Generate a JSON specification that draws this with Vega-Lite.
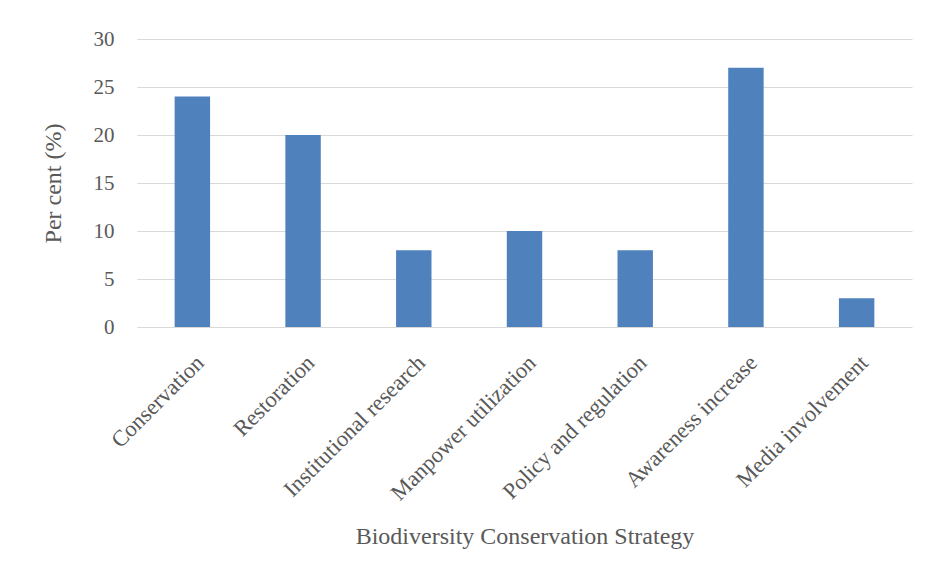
{
  "$schema": "https://vega.github.io/schema/vega-lite/v6.json",
  "autosize": "none",
  "width": 775,
  "height": 288,
  "padding": {"left": 137, "top": 39, "right": 13, "bottom": 243},
  "background": "white",
  "data": {
    "values": [
      {"strategy": "Conservation", "percent": 24},
      {"strategy": "Restoration", "percent": 20},
      {"strategy": "Institutional research", "percent": 8},
      {"strategy": "Manpower utilization", "percent": 10},
      {"strategy": "Policy and regulation", "percent": 8},
      {"strategy": "Awareness increase", "percent": 27},
      {"strategy": "Media involvement", "percent": 3}
    ]
  },
  "mark": {"type": "bar", "color": "#4f81bd"},
  "encoding": {
    "x": {
      "field": "strategy",
      "type": "nominal",
      "sort": null,
      "scale": {"paddingInner": 0.68, "paddingOuter": 0.34},
      "axis": {
        "title": "Biodiversity Conservation Strategy",
        "labelAngle": -45,
        "labelFont": "Liberation Serif",
        "labelFontSize": 22.5,
        "labelColor": "#595959",
        "labelPadding": 24,
        "labelLimit": 400,
        "titleFont": "Liberation Serif",
        "titleFontSize": 24,
        "titleFontWeight": "normal",
        "titleColor": "#595959",
        "titlePadding": 20,
        "domain": false,
        "ticks": false
      }
    },
    "y": {
      "field": "percent",
      "type": "quantitative",
      "scale": {"domain": [0, 30]},
      "axis": {
        "title": "Per cent (%)",
        "values": [0, 5, 10, 15, 20, 25, 30],
        "labelFont": "Liberation Serif",
        "labelFontSize": 21,
        "labelColor": "#595959",
        "labelPadding": 23,
        "titleFont": "Liberation Serif",
        "titleFontSize": 24,
        "titleFontWeight": "normal",
        "titleColor": "#595959",
        "titlePadding": 28,
        "domain": false,
        "ticks": false,
        "grid": true,
        "gridColor": "#d9d9d9",
        "gridWidth": 1
      }
    }
  },
  "config": {"view": {"stroke": null}}
}
